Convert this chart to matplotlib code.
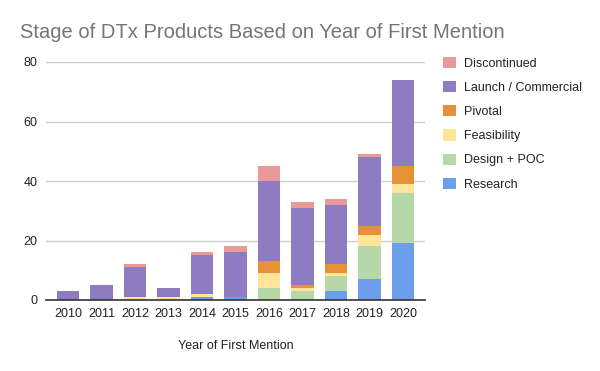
import matplotlib
matplotlib.use("Agg")
import matplotlib.pyplot as plt
import numpy as np
from matplotlib.patches import Patch

years = ["2010", "2011", "2012", "2013", "2014", "2015", "2016", "2017", "2018", "2019", "2020"]
research = [0, 0, 0, 0, 1, 1, 0, 0, 3, 7, 19]
design_poc = [0, 0, 0, 0, 0, 0, 4, 3, 5, 11, 17]
feasibility = [0, 0, 1, 1, 1, 0, 5, 1, 1, 4, 3]
pivotal = [0, 0, 0, 0, 0, 0, 4, 1, 3, 3, 6]
launch = [3, 5, 10, 3, 13, 15, 27, 26, 20, 23, 29]
discontinued = [0, 0, 1, 0, 1, 2, 5, 2, 2, 1, 0]

series = [
    ("Research", research, "#6d9eeb"),
    ("Design + POC", design_poc, "#b6d7a8"),
    ("Feasibility", feasibility, "#ffe599"),
    ("Pivotal", pivotal, "#e69138"),
    ("Launch / Commercial", launch, "#8e7cc3"),
    ("Discontinued", discontinued, "#ea9999"),
]


def main():
    plt.rcParams["font.family"] = ["Liberation Sans", "DejaVu Sans"]
    fig = plt.figure(figsize=(6.0, 3.71), dpi=100)
    ax = fig.add_axes([46 / 600, 1 - 300 / 371, 379 / 600, 238 / 371])

    x = np.arange(len(years))
    bottom = np.zeros(len(years))
    for name, vals, color in series:
        vals = np.array(vals, dtype=float)
        ax.bar(x, vals, bottom=bottom, width=0.66, color=color, label=name, zorder=2)
        bottom += vals

    ax.set_xlim(-0.657, len(years) - 1 + 0.657)
    ax.set_ylim(0, 80)
    ax.set_yticks([0, 20, 40, 60, 80])
    ax.set_xticks(x)
    ax.set_xticklabels(years)
    ax.tick_params(length=0, labelsize=9, colors="#222222")
    ax.tick_params(axis="y", pad=6)
    ax.tick_params(axis="x", pad=6)
    ax.grid(axis="y", color="#cccccc", linewidth=1, zorder=0)
    for s in ["top", "right", "left"]:
        ax.spines[s].set_visible(False)
    ax.spines["bottom"].set_color("#333333")
    ax.spines["bottom"].set_linewidth(1.2)
    ax.spines["bottom"].set_zorder(3)
    ax.set_xlabel("Year of First Mention", fontsize=9, color="#222222", labelpad=14)

    fig.text(20 / 600, 1 - 38 / 371, "Stage of DTx Products Based on Year of First Mention",
             fontsize=14.5, color="#757575", va="baseline", ha="left")

    handles = [Patch(facecolor=c, edgecolor="none") for _, _, c in series][::-1]
    labels = [n for n, _, _ in series][::-1]
    fig.legend(handles, labels, loc="upper left", bbox_to_anchor=(443 / 600, 1 - 57 / 371),
               frameon=False, fontsize=9, handlelength=1.0, handleheight=1.0,
               handletextpad=0.7, labelspacing=0.9, borderpad=0, borderaxespad=0,
               labelcolor="#222222")

    fig.savefig("out.png", dpi=100)


if __name__ == "__main__":
    main()
